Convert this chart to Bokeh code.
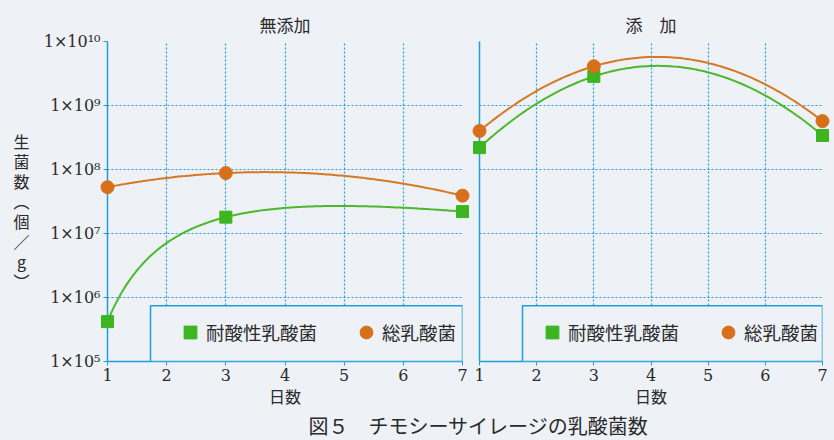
import numpy as np
from bokeh.plotting import figure
from bokeh.models import FixedTicker, Range1d, BoxAnnotation, Legend, LegendItem, Label
from bokeh.layouts import row, column
from bokeh.embed import file_html
from bokeh.resources import INLINE

# ---------------- data ----------------
days = [1, 3, 7]
mutenka_acid = [4.2e5, 1.8e7, 2.2e7]      # 無添加 耐酸性乳酸菌
mutenka_total = [5.3e7, 8.8e7, 3.9e7]     # 無添加 総乳酸菌
tenka_acid = [2.2e8, 2.85e9, 3.4e8]       # 添加 耐酸性乳酸菌
tenka_total = [4.0e8, 4.1e9, 5.7e8]       # 添加 総乳酸菌

x_ticks = [1, 2, 3, 4, 5, 6, 7]
y_ticks = [1e5, 1e6, 1e7, 1e8, 1e9, 1e10]
y_tick_labels = ["1×10⁵", "1×10⁶", "1×10⁷", "1×10⁸", "1×10⁹", "1×10¹⁰"]
panel_titles = ["無添加", "添　加"]
series_names = ["耐酸性乳酸菌", "総乳酸菌"]
x_title = "日数"
y_title_chars = ["生", "菌", "数", "︵", "個", "／", "g", "︶"]
caption = "図５　チモシーサイレージの乳酸菌数"

# ---------------- style ----------------
BG = "#eef1f6"
BLUE = "#1f9fd8"
GREEN = "#3cb521"
GREEN_LINE = "#4cb82c"
ORANGE = "#d8701a"
ORANGE_LINE = "#d57a22"
TXT = "#2a2a2a"
JP = "Noto Sans CJK JP"
NUM = "DejaVu Serif"
FIG_H = 410
TOP = 41
FRAME_H = 321
YT_W = 40


def smooth(xs, ys, logx=False):
    t = np.log(xs) if logx else np.asarray(xs, dtype=float)
    coef = np.polyfit(t, np.log10(ys), 2)
    xx = np.linspace(xs[0], xs[-1], 150)
    tt = np.log(xx) if logx else xx
    return xx, 10 ** np.polyval(coef, tt)


def make_panel(title, acid, total, width, bl, br, left_labels, acid_logx,
               box_left, legend_x, legend_spacing):
    p = figure(width=width, height=FIG_H, x_range=Range1d(1, 7),
               y_range=Range1d(1e5, 1e10), y_axis_type="log",
               output_backend="svg", toolbar_location=None,
               min_border_left=bl, min_border_right=br,
               min_border_top=TOP, min_border_bottom=FIG_H - TOP - FRAME_H,
               background_fill_color=BG, border_fill_color=BG,
               outline_line_color=None)
    p.title.text = title
    p.title.align = "center"
    p.title.text_font = JP
    p.title.text_font_size = "17px"
    p.title.text_font_style = "normal"
    p.title.text_color = TXT
    p.title.standoff = 10

    # grid
    p.xgrid.ticker = FixedTicker(ticks=x_ticks[1:-1])
    p.ygrid.ticker = FixedTicker(ticks=y_ticks[1:-1])
    for g in (p.xgrid, p.ygrid):
        g.grid_line_color = BLUE
        g.grid_line_dash = "2 2"
        g.grid_line_width = 1.2

    # axes
    xa = p.xaxis[0]
    xa.ticker = FixedTicker(ticks=x_ticks)
    xa.axis_line_color = BLUE
    xa.axis_line_width = 1.5
    xa.major_tick_line_color = BLUE
    xa.major_tick_out = 4
    xa.major_tick_in = 0
    xa.minor_tick_line_color = None
    xa.major_label_text_font = NUM
    xa.major_label_text_font_size = "16px"
    xa.major_label_text_color = TXT
    xa.major_label_standoff = 3
    xa.axis_label = x_title
    xa.axis_label_text_font = JP
    xa.axis_label_text_font_size = "16px"
    xa.axis_label_text_font_style = "normal"
    xa.axis_label_text_color = TXT
    xa.axis_label_standoff = 0

    ya = p.yaxis[0]
    ya.ticker = FixedTicker(ticks=y_ticks)
    ya.axis_line_color = BLUE
    ya.axis_line_width = 1.5
    ya.minor_tick_line_color = None
    ya.major_tick_in = 0
    if left_labels:
        ya.major_tick_line_color = BLUE
        ya.major_tick_out = 4
        ya.major_label_overrides = {t: s for t, s in zip(y_ticks, y_tick_labels)}
        ya.major_label_text_font = NUM
        ya.major_label_text_font_size = "16px"
        ya.major_label_text_color = TXT
        ya.major_label_standoff = 3
    else:
        ya.major_tick_out = 0
        ya.major_tick_line_color = None
        ya.major_label_text_font_size = "1px"
        ya.major_label_text_alpha = 0
        ya.major_label_standoff = 0

    # curves
    gx, gy = smooth(days, acid, logx=acid_logx)
    ox, oy = smooth(days, total)
    p.line(gx, gy, line_color=GREEN_LINE, line_width=2)
    p.line(ox, oy, line_color=ORANGE_LINE, line_width=2)
    rg = p.scatter(days, acid, marker="square", size=12, fill_color=GREEN,
                   line_color=GREEN, level="overlay")
    ro = p.scatter(days, total, marker="circle", size=13, fill_color=ORANGE,
                   line_color=ORANGE, level="overlay")

    # legend box
    box = BoxAnnotation(left=box_left, right=7, bottom=1e5, top=7.45e5,
                        fill_color=BG, fill_alpha=1.0,
                        line_color=BLUE, line_alpha=1.0, line_width=1.5)
    p.add_layout(box)

    legend = Legend(items=[LegendItem(label=series_names[0], renderers=[rg]),
                           LegendItem(label=series_names[1], renderers=[ro])],
                    orientation="horizontal", location=(legend_x, 13),
                    glyph_width=32, glyph_height=32, label_standoff=0,
                    spacing=legend_spacing, padding=0, margin=0,
                    border_line_color=None, background_fill_alpha=0,
                    label_text_font=JP, label_text_font_size="18.5px",
                    label_text_color=TXT)
    p.add_layout(legend)
    return p


def blank(width, height, y_top, y_bottom):
    f = figure(width=width, height=height, x_range=Range1d(0, width),
               y_range=Range1d(y_bottom, y_top), output_backend="svg",
               toolbar_location=None, min_border=0, outline_line_color=None,
               background_fill_color=BG, border_fill_color=BG,
               x_axis_location=None, y_axis_location=None)
    f.xgrid.visible = False
    f.ygrid.visible = False
    return f


# vertical y-axis title (stacked characters, as in the original);
# this strip's frame is aligned with the neighbouring plot frame (TOP..TOP+FRAME_H)
p0 = blank(YT_W, FIG_H, TOP, TOP + FRAME_H)
for i, ch in enumerate(y_title_chars):
    p0.add_layout(Label(x=21, y=141 + i * 20.1, text=ch, text_align="center",
                        text_baseline="middle", text_font=JP,
                        text_font_size="16px", text_color=TXT))

p1 = make_panel(panel_titles[0], mutenka_acid, mutenka_total, 472 - YT_W,
                107 - YT_W, 10, True, True, 1.727, 67, 33)
p2 = make_panel(panel_titles[1], tenka_acid, tenka_total, 362, 7, 12,
                False, False, 1.752, 57, 33)

# caption strip
CAP_H = 440 - FIG_H
cap = blank(834, CAP_H, 0, CAP_H)
cap.add_layout(Label(x=478, y=CAP_H / 2, text=caption,
                     text_align="center", text_baseline="middle",
                     text_font=JP, text_font_size="20px", text_color=TXT))

layout = column(row(p0, p1, p2, spacing=0), cap, spacing=0,
                styles={"background-color": BG})

open("out.html", "w").write(file_html(layout, INLINE))
